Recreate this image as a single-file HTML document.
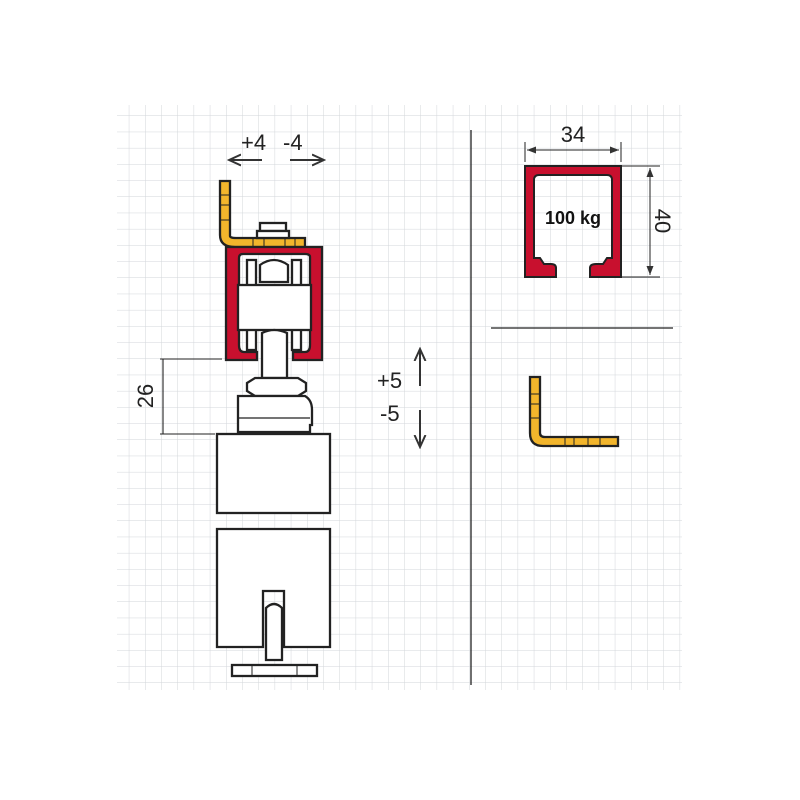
<!DOCTYPE html>
<html><head><style>body{margin:0;background:#fff}svg{display:block}</style></head><body>
<svg width="800" height="800" viewBox="0 0 800 800" xmlns="http://www.w3.org/2000/svg" font-family="Liberation Sans, Arial, sans-serif">
<defs>
<pattern id="g" x="113.1" y="99.8" width="16.2" height="16.2" patternUnits="userSpaceOnUse">
<path d="M16.2 0V16.2M0 16.2H16.2" stroke="#d2d6da" stroke-width="1" fill="none"/>
</pattern>
<marker id="a" markerWidth="14" markerHeight="14" refX="12" refY="7" orient="auto" markerUnits="userSpaceOnUse"><path d="M0 1.5L12 7L0 12.5" fill="none" stroke="#333" stroke-width="2"/></marker>
<marker id="s" markerWidth="10" markerHeight="10" refX="9" refY="5" orient="auto-start-reverse" markerUnits="userSpaceOnUse"><path d="M0 1.5L9 5L0 8.5Z" fill="#333"/></marker>
</defs>
<rect x="117" y="105" width="565" height="585" fill="url(#g)"/>
<g stroke="#222" stroke-width="1.3" fill="none">
<line x1="471" y1="130" x2="471" y2="685"/>
<line x1="491" y1="328" x2="673" y2="328"/>
</g>
<text x="241" y="150" font-size="22" fill="#222">+4</text>
<text x="283" y="150" font-size="22" fill="#222">-4</text>
<g stroke="#333" stroke-width="2" fill="none">
<line x1="262" y1="160" x2="229" y2="160" marker-end="url(#a)"/>
<line x1="290" y1="160" x2="324" y2="160" marker-end="url(#a)"/>
<line x1="420" y1="386" x2="420" y2="349" marker-end="url(#a)"/>
<line x1="420" y1="410" x2="420" y2="447" marker-end="url(#a)"/>
</g>
<text x="377" y="388" font-size="22" fill="#222">+5</text>
<text x="380" y="421" font-size="22" fill="#222">-5</text>
<g stroke="#222" stroke-width="1.1" fill="none">
<line x1="160" y1="359" x2="222" y2="359"/>
<line x1="160" y1="434" x2="215" y2="434"/>
<line x1="163" y1="359" x2="163" y2="434"/>
</g>
<text transform="translate(153,396) rotate(-90)" font-size="22" text-anchor="middle" fill="#222">26</text>
<g stroke="#222" stroke-width="2.3">
<path d="M220 181H230V236Q230 238 236 238H305V247H235Q220 247 220 235Z" fill="#f2b52c"/>
<path d="M220 195H230M220 205H230M220 220H230M253 238V247M264 238V247M285 238V247M295 238V247" fill="none" stroke-width="1"/>
<rect x="260" y="223" width="26" height="8" fill="#fff"/>
<rect x="257" y="231" width="32" height="7" fill="#fff"/>
<path d="M226 247H322V360H293V352H305Q310 352 310 345V257Q310 254 305 254H243Q239 254 239 258V345Q239 352 244 352H257V360H226Z" fill="#c8102e"/>
<rect x="247" y="260" width="9" height="90" fill="#fff"/>
<rect x="292" y="260" width="9" height="90" fill="#fff"/>
<path d="M260 265Q274 255 288 265V282H260Z" fill="#fff"/>
<rect x="238" y="285" width="73" height="45" fill="#fff"/>
<path d="M262 333Q274 327 287 333V378H262Z" fill="#fff"/>
<path d="M247 383L255 378H298L306 383V391L298 396H255L247 391Z" fill="#fff"/>
<path d="M238 396H305Q312 400 312 410V425H310V432H238Z" fill="#fff"/>
<path d="M238 418H310" fill="none" stroke-width="1.2"/>
<rect x="217" y="434" width="113" height="79" fill="#fff"/>
<path d="M217 529H330V647H284V591H263V647H217Z" fill="#fff"/>
<path d="M266 608Q274 600 282 608V660H266Z" fill="#fff"/>
<rect x="232" y="665" width="85" height="11" fill="#fff"/>
<path d="M252 665V676M297 665V676" stroke-width="1"/>
</g>
<path d="M525 166H621V277H590V268Q590 264 596 264H603L607 258H612V180Q612 175 607 175H539Q534 175 534 180V258H540L544 264H551Q556 264 556 268V277H525Z" fill="#c8102e" stroke="#222" stroke-width="2"/>
<text x="573" y="224" font-size="18" font-weight="bold" text-anchor="middle" fill="#111">100 kg</text>
<g stroke="#222" stroke-width="1">
<line x1="525" y1="142" x2="525" y2="162"/><line x1="621" y1="142" x2="621" y2="162"/>
<line x1="527" y1="150" x2="619" y2="150" marker-start="url(#s)" marker-end="url(#s)"/>
<line x1="622" y1="166" x2="660" y2="166"/><line x1="622" y1="277" x2="660" y2="277"/>
<line x1="650" y1="168" x2="650" y2="275" marker-start="url(#s)" marker-end="url(#s)"/>
</g>
<text x="573" y="142" font-size="22" text-anchor="middle" fill="#222">34</text>
<text transform="translate(655,221) rotate(90)" font-size="22" text-anchor="middle" fill="#222">40</text>
<g stroke="#222" stroke-width="2.3">
<path d="M530 377H540V433Q540 437 545 437H618V446H543Q530 446 530 433Z" fill="#f2b52c"/>
<path d="M530 394H540M530 404H540M530 418H540M565 437V446M574 437V446M588 437V446M600 437V446" fill="none" stroke-width="1"/>
</g>
</svg>
</body></html>
